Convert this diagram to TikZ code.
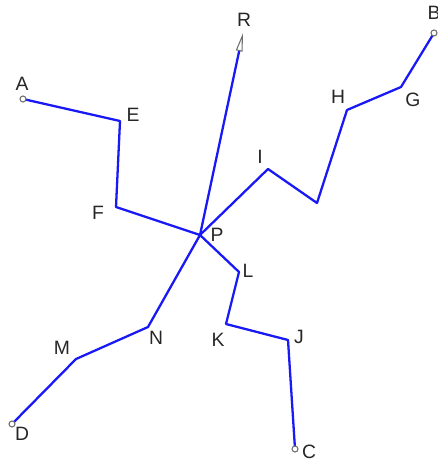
\documentclass[tikz,border=0pt]{standalone}
\usepackage{fontspec}
\setmainfont{Liberation Sans}
\usetikzlibrary{arrows.meta}
\definecolor{colroute}{RGB}{25,25,245}
\definecolor{colpoint}{RGB}{110,110,110}

\begin{document}
\begin{tikzpicture}[
  x=0.02cm, y=-0.02cm,
  font=\fontsize{11}{13}\selectfont,
  route/.style={colroute,line width=1.3pt,line join=round},
  endpt/.style={draw=colpoint,fill=white,line width=0.6pt},
  lbl/.style={inner sep=0pt,text=black!85},
]
  \useasboundingbox (0,0) rectangle (438,462);
  % ---- puntos ----
  \coordinate (P) at (200,235);
  \coordinate (A) at (23,99);
  \coordinate (E) at (120,121);
  \coordinate (F) at (116,207);
  \coordinate (I) at (268,169);
  \coordinate (Q) at (317,203);
  \coordinate (H) at (347,110);
  \coordinate (G) at (401,87);
  \coordinate (B) at (434,33);
  \coordinate (L) at (239,272);
  \coordinate (K) at (226,324);
  \coordinate (J) at (288,340);
  \coordinate (C) at (295,449);
  \coordinate (N) at (148,327);
  \coordinate (M) at (76,359);
  \coordinate (D) at (12,424);
  \coordinate (R) at (243,33);
  % ---- caminos ----
  \draw[route] (A) -- (E) -- (F) -- (P);
  \draw[route] (P) -- (I) -- (Q) -- (H) -- (G) -- (B);
  \draw[route] (P) -- (L) -- (K) -- (J) -- (C);
  \draw[route] (P) -- (N) -- (M) -- (D);
  \draw[route,-{Triangle[open,length=10.5pt,width=3.8pt,color=colpoint,line width=0.6pt]}] (P) -- (R);
  % ---- extremos ----
  \foreach \p in {A,B,C,D}
    \draw[endpt] (\p) circle[radius=3];
  % ---- etiquetas ----
  \node[lbl] (lR) at (244,20)  {R};
  \node[lbl] (lB) at (434,13)  {B};
  \node[lbl] (lA) at (22,84)   {A};
  \node[lbl] (lE) at (133,115) {E};
  \node[lbl] (lF) at (98,213)  {F};
  \node[lbl] (lP) at (217,235) {P};
  \node[lbl] (lI) at (260,157) {I};
  \node[lbl] (lH) at (338,97)  {H};
  \node[lbl] (lG) at (413,100) {G};
  \node[lbl] (lL) at (248,271) {L};
  \node[lbl] (lK) at (218,340) {K};
  \node[lbl] (lJ) at (299,337) {J};
  \node[lbl] (lC) at (309,452) {C};
  \node[lbl] (lN) at (156,338) {N};
  \node[lbl] (lM) at (62,348)  {M};
  \node[lbl] (lD) at (22,434)  {D};
\end{tikzpicture}
\end{document}
